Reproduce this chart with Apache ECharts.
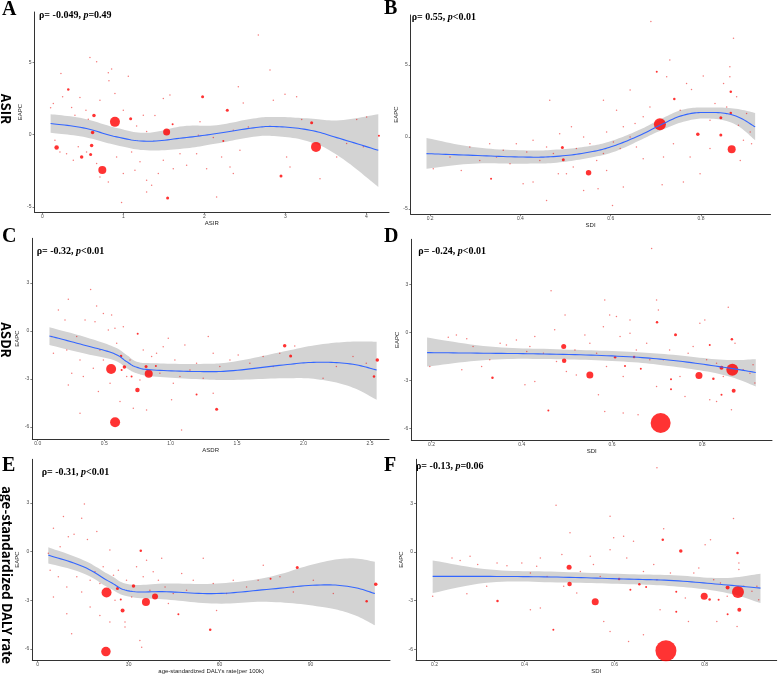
<!DOCTYPE html>
<html><head><meta charset="utf-8">
<script src="https://cdn.jsdelivr.net/npm/echarts@6/dist/echarts.min.js"></script>
<style>html,body{margin:0;padding:0;background:#fff}#c{width:778px;height:675px}</style>
</head><body><div id="c"></div>
<script>
// ---------- DATA: points [x, EAPC, relative magnitude] ----------
const ptsA = [[0.897,0.878,10],[1.535,0.185,7],[3.379,-0.854,10],[0.741,-2.448,8],[0.177,-0.90,4.5],[0.486,-1.547,3.5],[0.638,1.316,3.5],[0.621,0.139,3.5],[0.609,-0.762,3.5],[0.597,-1.386,3],[1.091,1.085,3],[1.979,2.61,3],[2.284,1.686,3],[1.547,-4.388,3],[2.947,-2.864,3],[3.325,0.808,3],[4.156,-0.09,2],[0.321,3.118,2.5],[1.609,0.716,2],[2.235,-0.44,2],
[2.667,6.88,1.5],[0.588,5.33,1.5],[0.671,5.03,1.5],[2.811,4.46,1.5],[2.42,3.30,1.5],[1.062,4.04,1.5],[0.856,4.53,1.5],[0.815,4.27,1.5],[0.23,4.23,1.5],[0.103,1.85,1.5],[0.136,2.15,1.5],[0.251,2.61,1.5],[0.362,1.87,1.5],[0.465,2.56,1.5],[0.539,1.69,1.5],[0.712,2.38,1.5],[0.823,3.72,1.5],[0.897,2.84,1.5],[1.0,1.69,1.5],[1.247,1.34,1.5],[1.391,1.32,1.5],[1.494,2.49,1.5],[1.576,2.73,1.5],[1.947,0.88,1.5],[2.111,-0.21,1.5],[2.358,0.30,1.5],[2.481,2.19,1.5],[2.543,0.53,1.5],[2.852,2.38,1.5],[2.996,2.79,1.5],[3.016,-1.55,1.5],[3.058,-2.24,1.5],[3.14,2.61,1.5],[3.202,1.04,1.5],[3.428,-3.05,1.5],[3.634,-1.55,1.5],[3.757,-0.62,1.5],[3.881,1.04,1.5],[3.963,-0.85,1.5],[4.004,1.22,1.5],[0.156,-0.39,1.5],[0.218,-1.20,1.5],[0.30,-1.32,1.5],[0.383,-1.78,1.5],[0.444,-0.85,1.5],[0.547,-1.20,1.5],[0.671,-2.01,1.5],[0.712,-2.93,1.5],[0.815,-3.28,1.5],[0.918,-1.55,1.5],[1.0,-2.70,1.5],[1.103,-1.20,1.5],[1.144,-2.47,1.5],[1.206,-1.89,1.5],[1.288,-3.16,1.5],[1.35,-3.51,1.5],[1.432,-2.70,1.5],[1.494,-1.78,1.5],[1.617,-2.36,1.5],[1.70,-1.32,1.5],[1.782,-2.12,1.5],[1.905,-1.32,1.5],[2.029,-2.36,1.5],[2.152,-4.32,1.5],[2.214,-1.55,1.5],[2.317,-2.24,1.5],[2.358,-2.70,1.5],[2.44,-1.09,1.5],[0.979,-4.71,1.5],[1.288,-3.97,1.5],[1.165,0.60,1.5],[1.288,0.21,1.5],[1.926,-0.05,1.5],[0.403,1.34,1.5],[0.568,1.06,1.5]];

const ptsB = [[0.709,0.88,12],[0.868,-0.86,8],[0.551,-2.49,5.5],[0.793,0.19,3.5],[0.844,0.14,3],[0.844,1.33,3],[0.493,-0.74,3],[0.495,-1.58,3],[0.866,1.67,2.5],[0.866,3.14,2.5],[0.741,2.63,2.5],[0.335,-2.91,2],[0.458,-4.42,1.5],[0.689,8.02,1.5],[0.872,6.86,1.5],[0.731,5.35,1.5],[0.702,4.53,2],[0.465,2.56,1.5],[0.761,-3.14,1.5],[0.714,-3.33,1.5],[0.604,-4.77,1.5],[0.572,-3.60,1.5],
[0.883,0.81,1.5],[0.894,-0.23,1.5],[0.909,0.35,1.5],[0.879,2.79,1.5],[0.85,3.72,1.5],[0.831,2.33,1.5],[0.805,4.23,1.5],[0.779,3.30,1.5],[0.754,1.86,1.5],[0.768,3.72,1.5],[0.82,-0.81,1.5],[0.887,-1.63,1.5],[0.687,2.09,1.5],[0.672,1.40,1.5],[0.654,0.93,1.5],[0.657,-0.70,1.5],[0.672,-1.51,1.5],[0.643,0,1.5],[0.628,0.70,1.5],[0.621,-0.81,1.5],[0.606,-0.35,1.5],[0.591,0.35,1.5],[0.584,-1.16,1.5],[0.569,-1.63,1.5],[0.554,-0.47,1.5],[0.54,0,1.5],[0.524,-0.81,1.5],[0.517,-2.09,1.5],[0.502,-2.56,1.5],[0.484,-2.56,1.5],[0.473,-1.16,1.5],[0.458,-0.70,1.5],[0.443,-1.63,1.5],[0.428,-0.23,1.5],[0.414,-1.05,1.5],[0.406,-3.26,1.5],[0.391,-0.47,1.5],[0.377,-1.86,1.5],[0.362,-0.93,1.5],[0.347,-1.40,1.5],[0.332,-0.47,1.5],[0.31,-1.63,1.5],[0.288,-0.70,1.5],[0.269,-2.33,1.5],[0.244,-1.40,1.5],[0.207,-2.21,1.5],[0.513,0.70,1.5],[0.487,0.23,1.5],[0.584,2.56,1.5],[0.613,1.86,1.5],[0.643,3.26,1.5],[0.724,4.19,1.5],[0.717,-1.40,1.5],[0.739,-0.47,1.5],[0.776,-1.40,1.5],[0.798,-2.56,1.5],[0.82,1.16,1.5],[0.912,-0.47,1.5],[0.901,1.63,1.5],[0.857,2.09,1.5],[0.591,-2.33,1.5],[0.628,-3.49,1.5],[0.54,-3.72,1.5],[0.428,-3.14,1.5],[0.864,4.88,1.5],[0.864,4.19,1.5]];

const ptsC = [[0.552,-2.375,10],[0.582,-5.71,10],[0.835,-2.67,8],[0.75,-3.69,4.5],[0.652,-2.25,3.5],[0.627,-1.56,2.5],[0.815,-2.23,3],[1.346,-4.90,3],[1.858,-0.92,3.5],[1.903,-1.56,3],[2.555,-1.81,3.5],[2.53,-2.85,2.5],[1.195,-3.98,2],[0.752,-0.17,2],[0.631,-2.44,2],[0.889,-2.19,2],[0.706,-2.85,2],[1.082,-6.19,1.5],
[0.398,2.60,1.5],[0.23,1.98,1.5],[0.155,1.31,1.5],[0.205,0.69,1.5],[0.105,-0.35,1.5],[0.118,-1.40,1.5],[0.218,-1.19,1.5],[0.293,-0.35,1.5],[0.318,-1.81,1.5],[0.356,0.69,1.5],[0.431,0.58,1.5],[0.443,1.56,1.5],[0.468,-1.19,1.5],[0.494,-1.81,1.5],[0.531,0.06,1.5],[0.556,1.0,1.5],[0.594,-0.77,1.5],[0.318,-5.15,1.5],[0.456,-3.79,1.5],[0.544,-3.27,1.5],[0.619,-4.42,1.5],[0.669,-2.85,1.5],[0.694,-1.81,1.5],[0.719,-4.83,1.5],[0.769,-3.06,1.5],[0.794,-1.19,1.5],[0.819,-4.94,1.5],[0.857,-1.60,1.5],[0.894,-1.40,1.5],[0.919,-2.65,1.5],[0.944,-0.98,1.5],[0.982,-0.46,1.5],[1.007,-4.31,1.5],[1.032,-1.81,1.5],[1.07,-2.85,1.5],[1.107,-0.875,1.5],[1.145,-2.44,1.5],[1.195,-2.02,1.5],[1.245,-2.96,1.5],[1.283,-0.35,1.5],[1.32,-1.40,1.5],[1.32,-3.90,1.5],[1.37,-2.23,1.5],[1.446,-1.81,1.5],[1.508,-1.5,1.5],[1.596,-2.02,1.5],[1.696,-1.60,1.5],[1.771,-2.23,1.5],[1.821,-1.40,1.5],[1.934,-0.94,1.5],[2.147,-2.96,1.5],[2.247,-2.23,1.5],[2.372,-1.60,1.5],[2.472,-2.02,1.5],[0.581,0.17,1.5],[0.644,0.27,1.5],[0.494,1.10,1.5],[0.256,-2.65,1.5],[0.23,-3.38,1.5],[0.343,-2.85,1.5],[0.418,-2.33,1.5],[1.02,-3.27,1.5]];

const ptsD = [[0.708,-5.66,20],[0.867,-2.34,12],[0.551,-2.66,7],[0.793,-2.70,7],[0.493,-0.89,5],[0.494,-1.78,4.5],[0.843,-2.22,4],[0.87,-3.65,4],[0.741,-0.15,3],[0.70,0.62,2.5],[0.866,-0.44,2.5],[0.825,-2.90,2.5],[0.335,-2.84,2.5],[0.459,-4.88,2],[0.607,-1.56,2.5],[0.649,-1.54,2.5],[0.629,-2.10,2],[0.664,-2.28,2],[0.731,-2.93,2],[0.731,-3.55,2],[0.817,-0.79,2],[0.843,-3.90,2],[0.865,-4.83,1.5],
[0.688,5.23,1.5],[0.465,2.59,1.5],[0.584,2.01,1.5],[0.858,1.56,1.5],[0.196,-2.14,1.5],[0.237,-0.31,1.5],[0.255,-0.17,1.5],[0.278,-0.41,1.5],[0.292,-0.89,1.5],[0.267,-2.34,1.5],[0.311,-2.14,1.5],[0.329,-1.72,1.5],[0.352,-0.68,1.5],[0.366,-0.79,1.5],[0.388,-0.48,1.5],[0.411,-1.20,1.5],[0.418,-0.89,1.5],[0.429,-0.27,1.5],[0.407,-3.28,1.5],[0.429,-3.07,1.5],[0.448,-1.31,1.5],[0.473,0.15,1.5],[0.496,1.08,1.5],[0.477,-1.83,1.5],[0.499,-2.45,1.5],[0.518,-1.10,1.5],[0.521,-2.66,1.5],[0.54,-0.17,1.5],[0.551,-0.68,1.5],[0.566,-1.31,1.5],[0.57,-3.90,1.5],[0.581,0.35,1.5],[0.588,-2.14,1.5],[0.595,1.08,1.5],[0.61,0.98,1.5],[0.618,-0.27,1.5],[0.625,-2.76,1.5],[0.64,0.77,1.5],[0.654,-1.10,1.5],[0.658,-5.15,1.5],[0.677,-0.68,1.5],[0.684,-1.72,1.5],[0.699,-3.38,1.5],[0.703,1.39,1.5],[0.714,-1.72,1.5],[0.728,-1.10,1.5],[0.751,-2.76,1.5],[0.762,-4.0,1.5],[0.769,-1.31,1.5],[0.78,-0.89,1.5],[0.795,0.56,1.5],[0.806,0.77,1.5],[0.81,-1.72,1.5],[0.832,-1.93,1.5],[0.847,-2.76,1.5],[0.873,-0.68,1.5],[0.891,-2.34,1.5],[0.906,-2.55,1.5],[0.913,-2.03,1.5],[0.917,-3.17,1.5],[0.584,-4.94,1.5],[0.625,-5.04,1.5],[0.832,-4.32,1.5],[0.817,-4.21,1.5],[0.699,2.01,1.5],[0.64,-0.06,1.5]];

const ptsE = [[22.7,-2.52,10],[22.5,-6.16,9.5],[35.7,-3.10,8],[38.7,-2.77,6],[28.0,-3.62,4],[31.6,-2.11,3.5],[26.3,-2.27,3],[34.0,0.06,2.5],[56.9,-4.81,2.5],[85.6,-0.97,3],[111.5,-2.0,3.5],[108.5,-3.06,2.5],[46.4,-3.86,2],[76.8,-1.67,2],[72.7,-1.76,1.5],[27.4,-2.95,2],[33.7,-5.48,1.5],[43.1,-3.2,1.5],
[15.4,2.95,1.5],[8.5,2.17,1.5],[14.5,2.07,1.5],[5.2,1.45,1.5],[10.1,0.93,1.5],[12.0,1.07,1.5],[16.4,0.76,1.5],[19.5,1.24,1.5],[7.4,0.31,1.5],[4.1,-1.14,1.5],[6.8,-1.55,1.5],[9.6,-2.17,1.5],[12.9,-1.55,1.5],[14.5,-2.48,1.5],[17.3,-1.76,1.5],[18.9,-1.24,1.5],[20.5,-1.96,1.5],[21.6,-0.93,1.5],[23.8,0.10,1.5],[25.0,-1.45,1.5],[25.5,-3.0,1.5],[26.6,-1.14,1.5],[28.8,-4.34,1.5],[29.3,-1.76,1.5],[31.0,-2.79,1.5],[32.6,-0.93,1.5],[34.3,-5.89,1.5],[34.8,-1.55,1.5],[35.9,-0.52,1.5],[37.0,-2.38,1.5],[38.1,-1.24,1.5],[39.8,-1.76,1.5],[40.9,-0.41,1.5],[42.0,-2.17,1.5],[44.7,-2.58,1.5],[47.5,-1.34,1.5],[49.1,-2.38,1.5],[51.3,-1.76,1.5],[54.6,-0.41,1.5],[57.9,-1.96,1.5],[59.0,-3.62,1.5],[62.3,-2.58,1.5],[64.5,-1.76,1.5],[68.9,-2.17,1.5],[74.4,-0.83,1.5],[79.9,-1.55,1.5],[84.3,-2.48,1.5],[90.9,-1.76,1.5],[97.5,-2.58,1.5],[11.2,-5.06,1.5],[9.6,-3.82,1.5],[5.2,-2.79,1.5],[17.3,-3.41,1.5],[20.5,-3.93,1.5],[23.8,-4.34,1.5],[28.8,-4.65,1.5],[3.5,-0.10,1.5]];

const ptsF = [[0.714,-6.10,21],[0.874,-2.47,12],[0.557,-3.07,7],[0.799,-2.74,7],[0.499,-0.95,5],[0.50,-1.98,4.5],[0.877,-3.57,4],[0.851,-2.19,4],[0.747,0.06,3.5],[0.707,0.76,2.5],[0.873,-0.06,2.5],[0.811,-2.93,2.5],[0.61,-1.67,2.5],[0.655,-2.0,2.5],[0.67,-2.16,2],[0.737,-2.45,2],[0.635,-2.33,2],[0.34,-3.03,2.5],[0.464,-4.80,2],[0.737,-3.69,2],[0.851,-3.84,2],[0.831,-2.95,2],
[0.694,5.20,1.5],[0.47,2.89,1.5],[0.59,2.21,1.5],[0.864,2.06,1.5],[0.709,1.44,1.5],[0.196,-2.74,1.5],[0.239,-0.37,1.5],[0.257,-0.52,1.5],[0.279,-0.27,1.5],[0.296,-0.78,1.5],[0.272,-2.58,1.5],[0.316,-2.12,1.5],[0.339,-0.68,1.5],[0.361,-0.85,1.5],[0.394,-0.68,1.5],[0.413,-1.30,1.5],[0.427,-0.89,1.5],[0.435,-0.37,1.5],[0.413,-3.57,1.5],[0.435,-3.46,1.5],[0.45,-1.51,1.5],[0.483,-0.16,1.5],[0.501,1.18,1.5],[0.487,-2.12,1.5],[0.516,-2.54,1.5],[0.524,-1.20,1.5],[0.546,-0.27,1.5],[0.553,-0.78,1.5],[0.568,-1.51,1.5],[0.576,-4.29,1.5],[0.59,0.14,1.5],[0.598,0.87,1.5],[0.62,0.97,1.5],[0.627,-0.37,1.5],[0.642,0.66,1.5],[0.664,-1.20,1.5],[0.664,-5.11,1.5],[0.687,-0.78,1.5],[0.694,-1.71,1.5],[0.701,-3.57,1.5],[0.724,-1.30,1.5],[0.757,-2.85,1.5],[0.764,-4.29,1.5],[0.776,-1.30,1.5],[0.787,-0.99,1.5],[0.801,0.45,1.5],[0.813,0.76,1.5],[0.82,-1.71,1.5],[0.835,-1.92,1.5],[0.85,-2.74,1.5],[0.876,-0.68,1.5],[0.887,-2.12,1.5],[0.905,-2.43,1.5],[0.916,-2.12,1.5],[0.92,-2.95,1.5],[0.59,-4.91,1.5],[0.631,-5.53,1.5],[0.827,-4.29,1.5],[0.872,-4.60,1.5],[0.876,-1.09,1.5]];

// ---------- DATA: smooth fits (x, fitted, lower CI, upper CI) ----------
const xA = [0.103,0.506,0.918,1.288,1.741,2.152,2.605,2.893,3.305,3.675,4.148];
const fitA = [0.76,0.46,-0.16,-0.46,-0.23,0.07,0.46,0.55,0.30,-0.28,-1.09];
const loA = [0.12,-0.16,-0.74,-1.09,-0.97,-0.62,-0.16,-0.12,-0.51,-1.55,-3.63];
const hiA = [1.41,1.11,0.46,0.12,0.58,0.65,1.11,1.22,1.11,0.99,1.41];

const xB = [0.192,0.295,0.406,0.48,0.554,0.606,0.665,0.709,0.761,0.813,0.872,0.92];
const fitB = [-1.16,-1.28,-1.40,-1.35,-1.05,-0.63,0.12,0.81,1.51,1.70,1.51,0.70];
const loB = [-2.21,-1.86,-1.86,-1.79,-1.44,-1.05,-0.23,0.42,1.05,1.28,0.93,-0.23];
const hiB = [-0.07,-0.70,-0.93,-0.88,-0.63,-0.23,0.51,1.21,1.91,2.05,1.98,1.67];

const xC = [0.088,0.344,0.569,0.669,0.745,0.87,1.221,1.472,1.848,2.099,2.35,2.55];
const fitC = [-0.31,-0.875,-1.40,-1.92,-2.27,-2.44,-2.54,-2.48,-2.125,-1.96,-2.06,-2.44];
const loC = [-0.875,-1.40,-1.82,-2.33,-2.65,-2.85,-3.02,-3.06,-2.96,-3.02,-3.48,-4.31];
const hiC = [0.23,-0.35,-0.98,-1.5,-1.92,-2.02,-2.06,-1.92,-1.29,-0.875,-0.67,-0.67];

const xD = [0.19,0.329,0.477,0.625,0.736,0.847,0.919];
const fitD = [-1.27,-1.31,-1.37,-1.51,-1.76,-2.18,-2.51];
const loD = [-2.14,-1.72,-1.68,-1.83,-2.14,-2.66,-3.38];
const hiD = [-0.33,-0.89,-1.06,-1.20,-1.41,-1.72,-1.68];

const xE = [3.5,15.1,23.8,30.4,42.5,59.0,75.5,92.0,103.0,111.2];
const fitE = [-0.21,-0.93,-1.86,-2.43,-2.47,-2.58,-2.33,-2.06,-2.16,-2.58];
const loE = [-0.72,-1.34,-2.27,-2.78,-2.95,-3.2,-3.09,-3.36,-3.81,-4.54];
const hiE = [0.27,-0.52,-1.44,-2.02,-1.96,-1.96,-1.59,-0.72,-0.41,-0.62];

const xF = [0.196,0.324,0.472,0.62,0.731,0.842,0.924];
const fitF = [-1.51,-1.51,-1.55,-1.67,-1.77,-2.02,-2.23];
const loF = [-2.54,-1.88,-1.88,-1.98,-2.12,-2.49,-3.15];
const hiF = [-0.52,-1.09,-1.22,-1.36,-1.44,-1.61,-1.34];

// ---------- tick labels / texts ----------
const ticksX_A = [0,1,2,3,4];
const ticksX_SDI = [0.2,0.4,0.6,0.8];
const ticksX_C = [0,0.5,1,1.5,2,2.5];
const ticksX_E = [0,30,60,90];
const ticksY_AB = [-5,0,5];
const ticksY_CF = [-6,-3,0,3];
const xNames = ['ASIR','SDI','ASDR','SDI','age-standardized DALYs rate(per 100k)','SDI'];
const panelLetters = ['A','B','C','D','E','F'];
const rhoText = ['-0.049','0.55','-0.32','-0.24','-0.31','-0.13'];
const pText = ['=0.49','<0.01','<0.01','<0.01','<0.01','=0.06'];
const rowLabels = ['ASIR','ASDR','age-standardized DALY rate'];

// ---------- layout ----------
const grids = [
  {left:34.5, top:12, width:354.5, height:200.3},
  {left:410.7, top:15, width:359.8, height:199.3},
  {left:32.3, top:238.3, width:356.7, height:200.7},
  {left:411.3, top:239.3, width:360.7, height:201},
  {left:32.3, top:459.3, width:357.7, height:200.7},
  {left:416, top:459.3, width:360.7, height:200.7}
];
const xr = [[-0.096,4.28],[0.157,0.954],[-0.041,2.643],[0.155,0.955],[-1.78,116.2],[0.159,0.96]];
const yr = [[-5.38,8.48],[-5.38,8.48],[-6.76,5.80],[-6.74,5.80],[-6.68,5.70],[-6.67,5.72]];
const xt = [ticksX_A,ticksX_SDI,ticksX_C,ticksX_SDI,ticksX_E,ticksX_SDI];
const yt = [ticksY_AB,ticksY_AB,ticksY_CF,ticksY_CF,ticksY_CF,ticksY_CF];
const xfmt = [v=>String(v), v=>v.toFixed(1), v=>v.toFixed(1), v=>v.toFixed(1), v=>String(v), v=>v.toFixed(1)];
const yNameGap = [11,6.5,12,7.5,12,9];
const xNameGap = [7.5,7.5,8,8.5,7,7];

const pts = [ptsA,ptsB,ptsC,ptsD,ptsE,ptsF];
const fx = [xA,xB,xC,xD,xE,xF];
const ff = [fitA,fitB,fitC,fitD,fitE,fitF];
const fl = [loA,loB,loC,loD,loE,loF];
const fh = [hiA,hiB,hiC,hiD,hiE,hiF];

const axisCol = '#333333';
const labCol = '#4d4d4d';
const sans = '"Liberation Sans", Arial, sans-serif';
const serif = '"Liberation Serif", "Times New Roman", serif';

// cubic (Catmull-Rom style) sampling of pixel points for smooth curves
function sampleCurve(p, k, steps) {
  const out = [p[0]];
  const n = p.length;
  for (let i = 0; i < n - 1; i++) {
    const p0 = p[Math.max(i - 1, 0)], p1 = p[i], p2 = p[i + 1], p3 = p[Math.min(i + 2, n - 1)];
    const c1 = [p1[0] + (p2[0] - p0[0]) * k, p1[1] + (p2[1] - p0[1]) * k];
    const c2 = [p2[0] - (p3[0] - p1[0]) * k, p2[1] - (p3[1] - p1[1]) * k];
    for (let s = 1; s <= steps; s++) {
      const t = s / steps, u = 1 - t;
      out.push([
        u*u*u*p1[0] + 3*u*u*t*c1[0] + 3*u*t*t*c2[0] + t*t*t*p2[0],
        u*u*u*p1[1] + 3*u*u*t*c1[1] + 3*u*t*t*c2[1] + t*t*t*p2[1]
      ]);
    }
  }
  return out;
}
const K = 0.2, STEPS = 12;

const xAxis = [], yAxis = [], series = [];
for (let i = 0; i < 6; i++) {
  xAxis.push({
    type:'value', gridIndex:i, min:xr[i][0], max:xr[i][1],
    name:xNames[i], nameLocation:'middle', nameGap:xNameGap[i],
    nameTextStyle:{fontSize:6, color:'#222', fontFamily:sans},
    axisLine:{show:true, onZero:false, lineStyle:{color:axisCol, width:1}},
    axisTick:{show:true, length:2, customValues:xt[i], lineStyle:{color:axisCol, width:0.6}},
    axisLabel:{customValues:xt[i], formatter:xfmt[i], fontSize:5, color:labCol, margin:2, fontFamily:sans},
    splitLine:{show:false}
  });
  yAxis.push({
    type:'value', gridIndex:i, min:yr[i][0], max:yr[i][1],
    name:'EAPC', nameLocation:'middle', nameGap:yNameGap[i],
    nameTextStyle:{fontSize:6, color:'#222', fontFamily:sans},
    axisLine:{show:true, onZero:false, lineStyle:{color:axisCol, width:1}},
    axisTick:{show:true, length:2, customValues:yt[i], lineStyle:{color:axisCol, width:0.6}},
    axisLabel:{customValues:yt[i], fontSize:5, color:labCol, margin:3, fontFamily:sans},
    splitLine:{show:false}
  });
  const xs = fx[i], lo = fl[i], hi = fh[i], fit = ff[i];
  // confidence band
  series.push({
    type:'custom', xAxisIndex:i, yAxisIndex:i, silent:true, z:1,
    data: xs.map((x,k)=>[x, fit[k]]),
    renderItem: function (params, api) {
      if (params.dataIndex !== 0) return null;
      const top = sampleCurve(xs.map((x,k)=>api.coord([x, hi[k]])), K, STEPS);
      const bot = sampleCurve(xs.map((x,k)=>api.coord([x, lo[k]])), K, STEPS).reverse();
      return {type:'polygon', shape:{points: top.concat(bot)}, style:{fill:'#d3d3d3'}};
    }
  });
  // points
  series.push({
    type:'scatter', xAxisIndex:i, yAxisIndex:i, data:pts[i], silent:true,
    symbolSize: v => v[2],
    itemStyle:{color: p => p.value[2] <= 1.6 ? 'rgba(235,0,0,0.65)' : '#ff0000'},
    z:2
  });
  // fitted smooth line
  series.push({
    type:'custom', xAxisIndex:i, yAxisIndex:i, silent:true, z:3,
    data: xs.map((x,k)=>[x, fit[k]]),
    renderItem: function (params, api) {
      if (params.dataIndex !== 0) return null;
      const line = sampleCurve(xs.map((x,k)=>api.coord([x, fit[k]])), K, STEPS);
      return {type:'polyline', shape:{points: line}, style:{stroke:'#3366ff', lineWidth:1.1, fill:null}};
    }
  });
}

// ---------- texts ----------
const letterPos = [[2,9.5],[384,9],[2,236.7],[384,236.7],[2,465.8],[384,465.8]];
const annPos = [[39,15],[411.7,17.3],[36.7,251.7],[418.3,251],[41.7,472.3],[416,466.7]];
const rowPos = [[6.5,109],[6.5,340],[7,575]];
const graphic = [];
for (let i = 0; i < 6; i++) {
  graphic.push({type:'text', x:letterPos[i][0], y:letterPos[i][1], silent:true, z:100,
    style:{text:panelLetters[i], fontFamily:serif, fontWeight:'bold', fontSize:20, fill:'#000', verticalAlign:'middle', align:'left'}});
  graphic.push({type:'text', x:annPos[i][0], y:annPos[i][1], silent:true, z:100,
    style:{text:'{b|ρ= ' + rhoText[i] + ', }{i|p}{b|' + pText[i] + '}', verticalAlign:'middle', align:'left',
      rich:{b:{fontFamily:serif, fontWeight:'bold', fontSize:10, fill:'#000'},
            i:{fontFamily:serif, fontWeight:'bold', fontStyle:'italic', fontSize:10, fill:'#000'}}}});
}
for (let r = 0; r < 3; r++) {
  graphic.push({type:'text', x:rowPos[r][0], y:rowPos[r][1], rotation:-Math.PI/2, silent:true, z:100,
    style:{text:rowLabels[r], fontFamily:'"Noto Sans CJK SC", "Noto Sans", sans-serif', fontWeight:'bold', fontSize:13.3, fill:'#000', align:'center', verticalAlign:'middle'}});
}

const chart = echarts.init(document.getElementById('c'), null, {renderer:'canvas'});
chart.setOption({
  animation:false, backgroundColor:'#ffffff',
  grid: grids, xAxis: xAxis, yAxis: yAxis, series: series, graphic: graphic
});
</script></body></html>
